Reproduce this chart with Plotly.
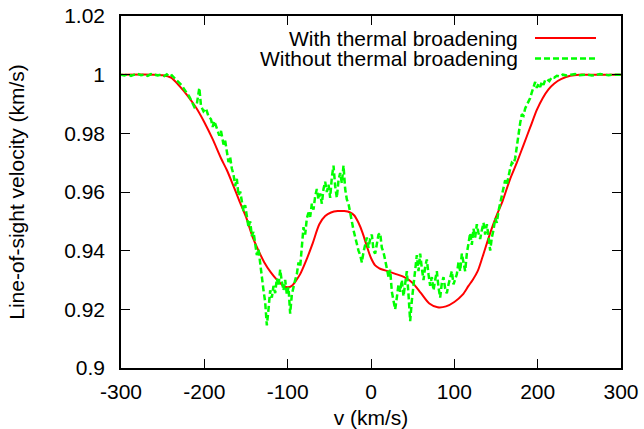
import plotly.graph_objects as go

# ---- data ----
x_ticks = [-300, -200, -100, 0, 100, 200, 300]
x_ticktext = ["-300", "-200", "-100", "0", "100", "200", "300"]
y_ticks = [0.9, 0.92, 0.94, 0.96, 0.98, 1.0, 1.02]
y_ticktext = ["0.9", "0.92", "0.94", "0.96", "0.98", "1", "1.02"]

series_names = ["With thermal broadening", "Without thermal broadening"]

v_thermal = [-300, -260, -250, -240, -230, -220, -210, -200, -190, -180,
             -173, -165, -158, -150, -142, -135, -128, -120, -112, -105,
             -100, -95, -90, -85, -78, -70, -62, -55, -48, -40,
             -32, -25, -20, -15, -10, -5, 0, 5, 10, 20,
             30, 40, 50, 60, 70, 80, 90, 100, 110, 117,
             122, 128, 134, 143, 150, 158, 167, 175, 183, 191,
             199, 206, 213, 220, 228, 239, 250, 260, 300]
p_thermal = [1.0, 1.0, 0.9998, 0.999, 0.9962, 0.9928, 0.9888, 0.9838, 0.978, 0.9715,
             0.9675, 0.962, 0.957, 0.9515, 0.9446, 0.940, 0.936, 0.9325, 0.9298, 0.928,
             0.9275, 0.928, 0.9298, 0.932, 0.9365, 0.9425, 0.949, 0.9518, 0.953, 0.9535,
             0.9535, 0.953, 0.952, 0.9495, 0.946, 0.9415, 0.9375, 0.935, 0.934, 0.933,
             0.932, 0.931, 0.929, 0.9255, 0.922, 0.9207, 0.921, 0.9225, 0.925, 0.928,
             0.930, 0.933, 0.938, 0.946, 0.9515, 0.957, 0.9645, 0.970, 0.976, 0.982,
             0.988, 0.992, 0.995, 0.997, 0.9985, 0.9996, 1.0, 1.0, 1.0]

v_nothermal = [-300, -296, -292, -288, -284, -280, -276, -272, -268, -264,
               -260, -256, -252, -248, -245, -242, -239, -236, -233, -230,
               -227, -224, -221, -218, -215, -212, -209, -206, -204, -201,
               -198, -195, -192, -190, -188, -185, -182, -180, -177, -175,
               -173, -171, -169, -167, -165, -163, -161, -159, -157, -155,
               -153, -151, -149, -147, -145, -143, -141, -139, -137, -135,
               -133, -131, -129, -127, -125, -123, -121, -119, -117, -115,
               -113, -111, -109, -107, -105, -103, -101, -99, -97, -95,
               -93, -91, -89, -87, -85, -83, -81, -79, -77, -75,
               -73, -71, -69, -67, -65, -63, -61, -59, -57, -55,
               -53, -51, -49, -47, -45, -43, -41, -39, -37, -35,
               -33, -31, -29, -27, -25, -23, -21, -19, -17, -15,
               -13, -11, -9, -7, -5, -3, -1, 1, 3, 5,
               7, 9, 11, 13, 15, 17, 19, 21, 23, 25,
               27, 29, 31, 33, 35, 37, 39, 41, 43, 45,
               47, 49, 51, 53, 55, 57, 59, 61, 63, 65,
               67, 69, 71, 73, 75, 77, 79, 81, 83, 85,
               87, 89, 91, 93, 95, 97, 99, 101, 103, 105,
               107, 109, 111, 113, 115, 117, 119, 121, 123, 125,
               127, 129, 131, 133, 135, 137, 139, 141, 143, 145,
               147, 149, 151, 153, 155, 157, 159, 161, 163, 165,
               167, 169, 171, 173, 175, 177, 179, 181, 183, 185,
               187, 189, 191, 193, 195, 197, 199, 201, 203, 205,
               207, 209, 211, 214, 217, 220, 223, 226, 230, 235,
               240, 245, 250, 255, 260, 265, 270, 275, 280, 285,
               290, 295, 300]
p_nothermal = [1.0, 0.9997, 1.0002, 0.9996, 1.0, 1.0003, 0.9998, 1.0, 0.9996, 1.0002,
               1.0, 0.9997, 1.0, 0.9995, 1.0001, 0.9993, 0.9998, 0.9988, 0.9980, 0.9972,
               0.9963, 0.9950, 0.9938, 0.9925, 0.9908, 0.9890, 0.9900, 0.9955, 0.9893, 0.9875,
               0.9885, 0.9858, 0.9848, 0.9822, 0.9842, 0.9815, 0.9792, 0.9808, 0.9762, 0.9775,
               0.9735, 0.9702, 0.9718, 0.9680, 0.9660, 0.9620, 0.9645, 0.9588, 0.9602, 0.9560,
               0.9535, 0.9555, 0.9510, 0.9480, 0.9500, 0.9450, 0.9465, 0.9420, 0.9385, 0.9405,
               0.9350, 0.9300, 0.9265, 0.9225, 0.9145, 0.9200, 0.9265, 0.9240, 0.9280, 0.9255,
               0.9305, 0.9280, 0.9335, 0.9295, 0.9265, 0.9300, 0.9250, 0.9275, 0.9185, 0.9250,
               0.9280, 0.9300, 0.9320, 0.9360, 0.9345, 0.9410, 0.9480, 0.9455, 0.9510, 0.9530,
               0.9515, 0.9560, 0.9540, 0.9585, 0.9610, 0.9575, 0.9595, 0.9560, 0.9610, 0.9635,
               0.9600, 0.9625, 0.9580, 0.9650, 0.9690, 0.9620, 0.9580, 0.9640, 0.9665, 0.9630,
               0.9690, 0.9610, 0.9575, 0.9560, 0.9535, 0.9500, 0.9470, 0.9445, 0.9420, 0.9400,
               0.9385, 0.9360, 0.9395, 0.9420, 0.9445, 0.9410, 0.9440, 0.9455, 0.9400, 0.9390,
               0.9430, 0.9455, 0.9460, 0.9410, 0.9395, 0.9360, 0.9340, 0.9310, 0.9335, 0.9260,
               0.9225, 0.9200, 0.9240, 0.9285, 0.9260, 0.9300, 0.9245, 0.9290, 0.9330, 0.9250,
               0.9160, 0.9230, 0.9290, 0.9350, 0.9385, 0.9330, 0.9390, 0.9340, 0.9300, 0.9345,
               0.9370, 0.9320, 0.9280, 0.9310, 0.9265, 0.9300, 0.9330, 0.9275, 0.9240, 0.9290,
               0.9310, 0.9270, 0.9255, 0.9285, 0.9305, 0.9330, 0.9285, 0.9300, 0.9320, 0.9360,
               0.9330, 0.9390, 0.9355, 0.9330, 0.9390, 0.9430, 0.9460, 0.9420, 0.9475, 0.9445,
               0.9490, 0.9460, 0.9440, 0.9470, 0.9495, 0.9455, 0.9490, 0.9450, 0.9400, 0.9445,
               0.9470, 0.9510, 0.9495, 0.9535, 0.9560, 0.9590, 0.9610, 0.9640, 0.9625, 0.9660,
               0.9680, 0.9700, 0.9695, 0.9715, 0.9760, 0.9785, 0.9835, 0.9865, 0.9860, 0.9885,
               0.9895, 0.9905, 0.9920, 0.9940, 0.9960, 0.9975, 0.9955, 0.9970, 0.9958, 0.9975,
               0.9965, 0.9982, 0.9985, 0.9978, 0.9992, 0.9990, 0.9996, 0.9994, 1.0, 0.9997,
               1.0, 1.0002, 0.9998, 1.0, 1.0, 0.9997, 1.0, 1.0002, 1.0, 0.9998,
               1.0, 1.0, 1.0]

RED = "#ff0000"
GREEN = "#00ff00"
FONT = "Liberation Sans, Arial, sans-serif"
FS = 21

fig = go.Figure()
fig.add_trace(go.Scatter(x=v_thermal, y=p_thermal, mode="lines", name=series_names[0],
                         line=dict(color=RED, width=2, shape="spline", smoothing=0.8)))
fig.add_trace(go.Scatter(x=v_nothermal, y=p_nothermal, mode="lines", name=series_names[1],
                         line=dict(color=GREEN, width=2.5, dash="6px,3px")))

axis_common = dict(showline=True, linecolor="black", linewidth=1.5, mirror="ticks",
                   ticks="inside", ticklen=9, tickwidth=1.2, tickcolor="black",
                   showgrid=False, zeroline=False, automargin=False,
                   tickfont=dict(family=FONT, size=FS, color="black"))

fig.update_xaxes(range=[-300, 300], tickvals=x_ticks, ticktext=x_ticktext,
                 ticklabelstandoff=4,
                 title=dict(text="v (km/s)", font=dict(family=FONT, size=FS, color="black"),
                            standoff=9),
                 **axis_common)
fig.update_yaxes(range=[0.9, 1.02], tickvals=y_ticks, ticktext=y_ticktext,
                 ticklabelstandoff=10,
                 title=dict(text="Line-of-sight velocity (km/s)",
                            font=dict(family=FONT, size=FS, color="black"), standoff=34),
                 **axis_common)

# gnuplot-style key: text on the left, line sample on the right
key_rows = [0.9375, 0.879]
key_styles = [dict(color=RED, width=2), dict(color=GREEN, width=2.5, dash="6px,3px")]
for name, yk, st in zip(series_names, key_rows, key_styles):
    fig.add_annotation(x=0.798, y=yk, xref="paper", yref="paper", text=name,
                       showarrow=False, xanchor="right", yanchor="middle",
                       font=dict(family=FONT, size=FS, color="black"))
    fig.add_shape(type="line", xref="paper", yref="paper", x0=0.828, x1=0.95,
                  y0=yk, y1=yk, line=st)

fig.update_layout(width=644, height=429, showlegend=False,
                  plot_bgcolor="white", paper_bgcolor="white",
                  margin=dict(l=121, r=23, t=16, b=61, autoexpand=False),
                  font=dict(family=FONT, size=FS, color="black"))

# remove the default page margin so the figure sits at the window's origin
fig.write_html("out.html", config={"displayModeBar": False},
               post_script="document.body.style.margin='0';")
